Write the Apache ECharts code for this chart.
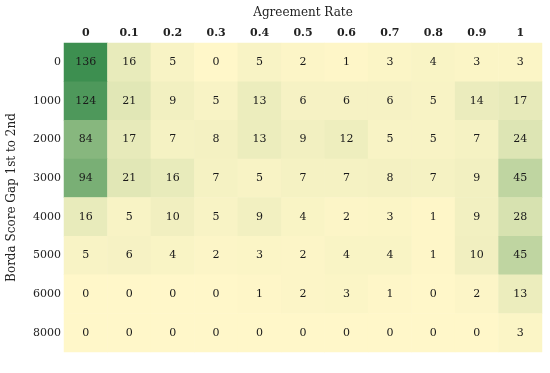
<!DOCTYPE html>
<html><head><meta charset="utf-8">
<script src="https://cdn.jsdelivr.net/npm/echarts@6/dist/echarts.min.js"></script>
<style>html,body{margin:0;padding:0;background:#fff}#c{width:550px;height:373px}</style>
</head><body><div id="c"></div>
<script>
const xCategories = ['0','0.1','0.2','0.3','0.4','0.5','0.6','0.7','0.8','0.9','1'];
const yCategories = ['0','1000','2000','3000','4000','5000','6000','8000'];
const row0    = [136,16,5,0,5,2,1,3,4,3,3];
const row1000 = [124,21,9,5,13,6,6,6,5,14,17];
const row2000 = [84,17,7,8,13,9,12,5,5,7,24];
const row3000 = [94,21,16,7,5,7,7,8,7,9,45];
const row4000 = [16,5,10,5,9,4,2,3,1,9,28];
const row5000 = [5,6,4,2,3,2,4,4,1,10,45];
const row6000 = [0,0,0,0,1,2,3,1,0,2,13];
const row8000 = [0,0,0,0,0,0,0,0,0,0,3];
const rows = [row0,row1000,row2000,row3000,row4000,row5000,row6000,row8000];
const data = [];
rows.forEach((r,yi)=>r.forEach((v,xi)=>data.push([xi,yi,v])));
const font = '"DejaVu Serif", "Liberation Serif", serif';
const chart = echarts.init(document.getElementById('c'));
chart.setOption({
  animation:false,
  textStyle:{fontFamily:font},
  grid:{left:64,right:8,top:43,bottom:21,containLabel:false,outerBoundsMode:'none'},
  xAxis:{type:'category',data:xCategories,position:'top',name:'Agreement Rate',nameLocation:'middle',nameGap:24,
    nameTextStyle:{fontFamily:font,fontSize:12,color:'#222'},
    axisLine:{show:false},axisTick:{show:false},
    axisLabel:{fontFamily:font,fontSize:11,fontWeight:'bold',color:'#222',margin:4},splitArea:{show:false}},
  yAxis:{type:'category',data:yCategories,inverse:true,name:'Borda Score Gap 1st to 2nd',nameLocation:'middle',nameGap:46,
    nameTextStyle:{fontFamily:font,fontSize:12,color:'#222'},
    axisLine:{show:false},axisTick:{show:false},
    axisLabel:{fontFamily:font,fontSize:11,color:'#222',margin:3}},
  visualMap:{show:false,min:0,max:136,inRange:{color:['#fff7c9','#3d8f50']}},
  series:[{type:'heatmap',data:data,
    label:{show:true,fontFamily:font,fontSize:11,color:'#1a1a1a'},
    itemStyle:{borderWidth:0}}]
});
</script></body></html>
